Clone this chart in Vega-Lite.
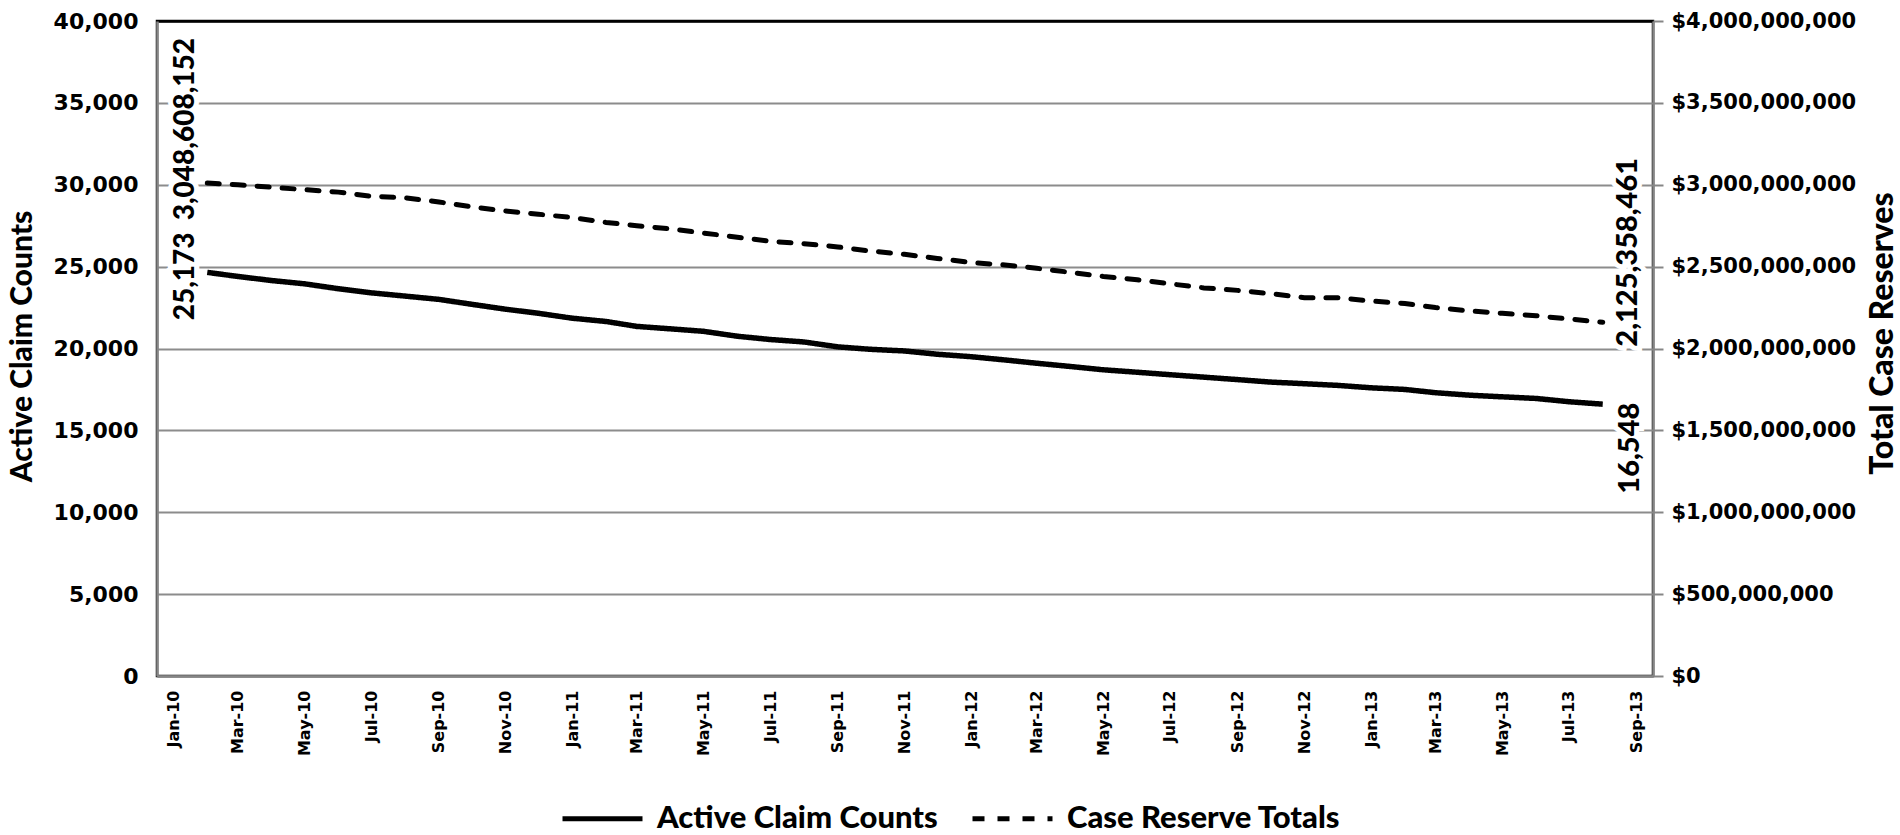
{
  "$schema": "https://vega.github.io/schema/vega-lite/v6.json",
  "width": 1496,
  "height": 655,
  "autosize": {"type": "none"},
  "padding": {"left": 157, "top": 21, "right": 247, "bottom": 159},
  "background": "white",
  "config": {
    "view": {"stroke": "black", "strokeWidth": 2.5},
    "font": "Lato"
  },
  "datasets": {
    "series": [
      {"date": "2010-02-01", "claims": 24650, "reserves": 3010000000},
      {"date": "2010-03-01", "claims": 24400, "reserves": 3000000000},
      {"date": "2010-04-01", "claims": 24150, "reserves": 2985000000},
      {"date": "2010-05-01", "claims": 23950, "reserves": 2970000000},
      {"date": "2010-06-01", "claims": 23650, "reserves": 2955000000},
      {"date": "2010-07-01", "claims": 23400, "reserves": 2930000000},
      {"date": "2010-08-01", "claims": 23200, "reserves": 2920000000},
      {"date": "2010-09-01", "claims": 23000, "reserves": 2895000000},
      {"date": "2010-10-01", "claims": 22700, "reserves": 2865000000},
      {"date": "2010-11-01", "claims": 22400, "reserves": 2840000000},
      {"date": "2010-12-01", "claims": 22150, "reserves": 2820000000},
      {"date": "2011-01-01", "claims": 21850, "reserves": 2800000000},
      {"date": "2011-02-01", "claims": 21650, "reserves": 2770000000},
      {"date": "2011-03-01", "claims": 21350, "reserves": 2750000000},
      {"date": "2011-04-01", "claims": 21200, "reserves": 2730000000},
      {"date": "2011-05-01", "claims": 21050, "reserves": 2705000000},
      {"date": "2011-06-01", "claims": 20750, "reserves": 2680000000},
      {"date": "2011-07-01", "claims": 20550, "reserves": 2655000000},
      {"date": "2011-08-01", "claims": 20400, "reserves": 2640000000},
      {"date": "2011-09-01", "claims": 20100, "reserves": 2620000000},
      {"date": "2011-10-01", "claims": 19950, "reserves": 2595000000},
      {"date": "2011-11-01", "claims": 19850, "reserves": 2575000000},
      {"date": "2011-12-01", "claims": 19650, "reserves": 2550000000},
      {"date": "2012-01-01", "claims": 19500, "reserves": 2525000000},
      {"date": "2012-02-01", "claims": 19300, "reserves": 2510000000},
      {"date": "2012-03-01", "claims": 19100, "reserves": 2490000000},
      {"date": "2012-04-01", "claims": 18900, "reserves": 2465000000},
      {"date": "2012-05-01", "claims": 18700, "reserves": 2440000000},
      {"date": "2012-06-01", "claims": 18550, "reserves": 2420000000},
      {"date": "2012-07-01", "claims": 18400, "reserves": 2395000000},
      {"date": "2012-08-01", "claims": 18250, "reserves": 2370000000},
      {"date": "2012-09-01", "claims": 18100, "reserves": 2355000000},
      {"date": "2012-10-01", "claims": 17950, "reserves": 2335000000},
      {"date": "2012-11-01", "claims": 17850, "reserves": 2310000000},
      {"date": "2012-12-01", "claims": 17750, "reserves": 2310000000},
      {"date": "2013-01-01", "claims": 17600, "reserves": 2290000000},
      {"date": "2013-02-01", "claims": 17500, "reserves": 2275000000},
      {"date": "2013-03-01", "claims": 17300, "reserves": 2250000000},
      {"date": "2013-04-01", "claims": 17150, "reserves": 2230000000},
      {"date": "2013-05-01", "claims": 17050, "reserves": 2215000000},
      {"date": "2013-06-01", "claims": 16950, "reserves": 2200000000},
      {"date": "2013-07-01", "claims": 16750, "reserves": 2180000000},
      {"date": "2013-08-01", "claims": 16600, "reserves": 2160000000}
    ]
  },
  "encoding": {
    "x": {
      "field": "date",
      "type": "temporal",
      "scale": {"domain": [{"year": 2009, "month": 12, "date": 17}, {"year": 2013, "month": 9, "date": 16}]},
      "axis": {
        "title": null,
        "orient": "bottom",
        "values": [
          {"year": 2010, "month": 1, "date": 1}, {"year": 2010, "month": 3, "date": 1}, {"year": 2010, "month": 5, "date": 1},
          {"year": 2010, "month": 7, "date": 1}, {"year": 2010, "month": 9, "date": 1}, {"year": 2010, "month": 11, "date": 1},
          {"year": 2011, "month": 1, "date": 1}, {"year": 2011, "month": 3, "date": 1}, {"year": 2011, "month": 5, "date": 1},
          {"year": 2011, "month": 7, "date": 1}, {"year": 2011, "month": 9, "date": 1}, {"year": 2011, "month": 11, "date": 1},
          {"year": 2012, "month": 1, "date": 1}, {"year": 2012, "month": 3, "date": 1}, {"year": 2012, "month": 5, "date": 1},
          {"year": 2012, "month": 7, "date": 1}, {"year": 2012, "month": 9, "date": 1}, {"year": 2012, "month": 11, "date": 1},
          {"year": 2013, "month": 1, "date": 1}, {"year": 2013, "month": 3, "date": 1}, {"year": 2013, "month": 5, "date": 1},
          {"year": 2013, "month": 7, "date": 1}, {"year": 2013, "month": 9, "date": 1}
        ],
        "format": "%b-%y",
        "labelAngle": 270,
        "labelFont": "DejaVu Sans",
        "labelFontWeight": "bold",
        "labelFontSize": 16,
        "labelColor": "black",
        "labelPadding": 14,
        "labelOverlap": false,
        "ticks": false,
        "grid": false,
        "domainColor": "#868686",
        "domainWidth": 2.5
      }
    }
  },
  "layer": [
    {
      "encoding": {
        "y": {
          "field": "claims",
          "type": "quantitative",
          "scale": {"domain": [0, 40000]},
          "axis": {
            "orient": "left",
            "values": [0, 5000, 10000, 15000, 20000, 25000, 30000, 35000, 40000],
            "format": ",.0f",
            "labelFont": "DejaVu Sans",
            "labelFontWeight": "bold",
            "labelFontSize": 22,
            "labelColor": "black",
            "labelPadding": 19,
            "labelLimit": 400,
            "ticks": false,
            "domainColor": "#868686",
            "domainWidth": 2.5,
            "grid": true,
            "gridColor": {"condition": {"test": "datum.value === 40000", "value": "black"}, "value": "#8c8c8c"},
            "gridWidth": {"condition": {"test": "datum.value === 40000", "value": 2.5}, "value": 2},
            "title": "Active Claim Counts",
            "titleFont": "Lato",
            "titleFontWeight": 900,
            "titleFontSize": 30,
            "titleColor": "black",
            "titleAngle": 270,
            "titleAlign": "center",
            "titleBaseline": "middle",
            "titleX": -135,
            "titleY": 325
          }
        }
      },
      "layer": [
        {
          "data": {"name": "series"},
          "mark": {"type": "line", "color": "black", "strokeWidth": 5.5},
          "encoding": {
            "strokeDash": {
              "datum": "Active Claim Counts",
              "type": "nominal",
              "scale": {"domain": ["Active Claim Counts", "Case Reserve Totals"], "range": [[1, 0], [12, 13]]},
              "legend": {
                "orient": "none",
                "legendX": 403,
                "legendY": 755,
                "direction": "horizontal",
                "title": null,
                "symbolType": "stroke",
                "symbolSize": 6400,
                "symbolStrokeWidth": 5,
                "symbolStrokeColor": "black",
                "labelFont": "Lato",
                "labelFontSize": 31,
                "labelFontWeight": 900,
                "labelColor": "black",
                "labelOffset": 12,
                "labelLimit": 500,
                "columnPadding": 24,
                "padding": 0
              }
            }
          }
        },
        {
          "data": {"values": [{"date": "2010-02-01", "claims": 24650, "label": "25,173"}]},
          "mark": {"type": "text", "angle": 270, "align": "center", "baseline": "middle", "dx": -4, "dy": -21, "font": "Lato", "fontWeight": 900, "fontSize": 28, "fill": "white", "stroke": "white", "strokeWidth": 10},
          "encoding": {"text": {"field": "label"}}
        },
        {
          "data": {"values": [{"date": "2010-02-01", "claims": 24650, "label": "25,173"}]},
          "mark": {"type": "text", "angle": 270, "align": "center", "baseline": "middle", "dx": -4, "dy": -21, "font": "Lato", "fontWeight": 900, "fontSize": 28, "fill": "black"},
          "encoding": {"text": {"field": "label"}}
        },
        {
          "data": {"values": [{"date": "2013-08-01", "claims": 16600, "label": "16,548"}]},
          "mark": {"type": "text", "angle": 270, "align": "center", "baseline": "middle", "dx": -44, "dy": 27, "font": "Lato", "fontWeight": 900, "fontSize": 29, "fill": "white", "stroke": "white", "strokeWidth": 10},
          "encoding": {"text": {"field": "label"}}
        },
        {
          "data": {"values": [{"date": "2013-08-01", "claims": 16600, "label": "16,548"}]},
          "mark": {"type": "text", "angle": 270, "align": "center", "baseline": "middle", "dx": -44, "dy": 27, "font": "Lato", "fontWeight": 900, "fontSize": 29, "fill": "black"},
          "encoding": {"text": {"field": "label"}}
        }
      ]
    },
    {
      "encoding": {
        "y": {
          "field": "reserves",
          "type": "quantitative",
          "scale": {"domain": [0, 4000000000]},
          "axis": {
            "orient": "right",
            "values": [0, 500000000, 1000000000, 1500000000, 2000000000, 2500000000, 3000000000, 3500000000, 4000000000],
            "format": "$,.0f",
            "labelFont": "DejaVu Sans",
            "labelFontWeight": "bold",
            "labelFontSize": 21,
            "labelColor": "black",
            "labelPadding": 8,
            "labelLimit": 400,
            "ticks": true,
            "tickSize": 10,
            "tickColor": "#868686",
            "tickWidth": 2,
            "domainColor": "#868686",
            "domainWidth": 2.5,
            "grid": false,
            "title": "Total Case Reserves",
            "titleFont": "Lato",
            "titleFontWeight": 900,
            "titleFontSize": 32,
            "titleColor": "black",
            "titleAngle": 270,
            "titleAlign": "center",
            "titleBaseline": "middle",
            "titleX": 229,
            "titleY": 312
          }
        }
      },
      "layer": [
        {
          "data": {"name": "series"},
          "mark": {"type": "line", "color": "black", "strokeWidth": 5, "strokeCap": "round"},
          "encoding": {
            "strokeDash": {"datum": "Case Reserve Totals", "type": "nominal"}
          }
        },
        {
          "data": {"values": [{"date": "2010-02-01", "reserves": 3010000000, "label": "3,048,608,152"}]},
          "mark": {"type": "text", "angle": 270, "align": "center", "baseline": "middle", "dx": 54, "dy": -21, "font": "Lato", "fontWeight": 900, "fontSize": 28, "fill": "white", "stroke": "white", "strokeWidth": 10},
          "encoding": {"text": {"field": "label"}}
        },
        {
          "data": {"values": [{"date": "2010-02-01", "reserves": 3010000000, "label": "3,048,608,152"}]},
          "mark": {"type": "text", "angle": 270, "align": "center", "baseline": "middle", "dx": 54, "dy": -21, "font": "Lato", "fontWeight": 900, "fontSize": 28, "fill": "black"},
          "encoding": {"text": {"field": "label"}}
        },
        {
          "data": {"values": [{"date": "2013-08-01", "reserves": 2160000000, "label": "2,125,358,461"}]},
          "mark": {"type": "text", "angle": 270, "align": "center", "baseline": "middle", "dx": 70, "dy": 25, "font": "Lato", "fontWeight": 900, "fontSize": 29, "fill": "white", "stroke": "white", "strokeWidth": 10},
          "encoding": {"text": {"field": "label"}}
        },
        {
          "data": {"values": [{"date": "2013-08-01", "reserves": 2160000000, "label": "2,125,358,461"}]},
          "mark": {"type": "text", "angle": 270, "align": "center", "baseline": "middle", "dx": 70, "dy": 25, "font": "Lato", "fontWeight": 900, "fontSize": 29, "fill": "black"},
          "encoding": {"text": {"field": "label"}}
        }
      ]
    }
  ],
  "resolve": {"scale": {"y": "independent"}}
}
